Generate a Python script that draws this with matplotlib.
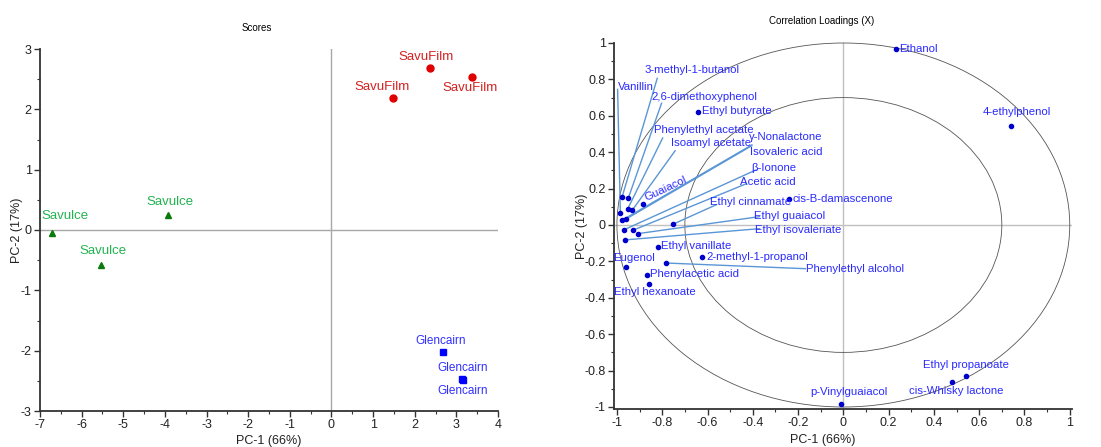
import matplotlib
matplotlib.use("Agg")
import matplotlib.pyplot as plt
from matplotlib.patches import Ellipse
from matplotlib.ticker import MultipleLocator, FuncFormatter

plt.rcParams['font.family'] = ['Liberation Sans', 'DejaVu Sans']
plt.rcParams['axes.unicode_minus'] = False

# ---------------- Scores data ----------------
savufilm_pc1 = [2.37, 1.47, 3.37]
savufilm_pc2 = [2.69, 2.18, 2.54]
savulce_pc1 = [-6.71, -5.53, -3.93]
savulce_pc2 = [-0.05, -0.58, 0.25]
glencairn_pc1 = [2.68, 3.13, 3.17]
glencairn_pc2 = [-2.02, -2.47, -2.49]

# ---------------- Loadings data ----------------
compounds = ["Ethanol", "4-ethylphenol", "Ethyl butyrate", "cis-B-damascenone",
             "Ethyl vanillate", "2-methyl-1-propanol", "Phenylethyl alcohol",
             "Eugenol", "Phenylacetic acid", "Ethyl hexanoate", "p-Vinylguaiacol",
             "Ethyl propanoate", "cis-Whisky lactone",
             "Vanillin", "3-methyl-1-butanol", "2,6-dimethoxyphenol",
             "Phenylethyl acetate", "Isoamyl acetate", "Guaiacol",
             "γ-Nonalactone", "Isovaleric acid", "β-Ionone", "Acetic acid",
             "Ethyl cinnamate", "Ethyl guaiacol", "Ethyl isovaleriate"]
load_pc1 = [0.233, 0.742, -0.643, -0.242,
            -0.817, -0.625, -0.783,
            -0.962, -0.869, -0.860, -0.010,
            0.543, 0.482,
            -0.985, -0.977, -0.950,
            -0.952, -0.932, -0.885,
            -0.976, -0.961, -0.970, -0.931,
            -0.753, -0.905, -0.965]
load_pc2 = [0.965, 0.546, 0.622, 0.141,
            -0.123, -0.174, -0.209,
            -0.232, -0.276, -0.322, -0.982,
            -0.831, -0.861,
            0.068, 0.155, 0.147,
            0.090, 0.082, 0.118,
            0.027, 0.032, -0.027, -0.030,
            0.004, -0.047, -0.082]

# label layout: (x, y, ha, rotation, leader-line end or None)
label_layout = {
    "Ethanol": (0.245, 0.968, 'left', 0, None),
    "4-ethylphenol": (0.766, 0.62, 'center', 0, None),
    "Ethyl butyrate": (-0.625, 0.624, 'left', 0, None),
    "cis-B-damascenone": (-0.225, 0.145, 'left', 0, None),
    "Ethyl vanillate": (-0.805, -0.115, 'left', 0, None),
    "2-methyl-1-propanol": (-0.605, -0.178, 'left', 0, None),
    "Phenylethyl alcohol": (-0.165, -0.24, 'left', 0, (-0.168, -0.24)),
    "Eugenol": (-0.925, -0.183, 'center', 0, None),
    "Phenylacetic acid": (-0.855, -0.269, 'left', 0, None),
    "Ethyl hexanoate": (-0.832, -0.37, 'center', 0, None),
    "p-Vinylguaiacol": (0.025, -0.919, 'center', 0, None),
    "Ethyl propanoate": (0.544, -0.769, 'center', 0, None),
    "cis-Whisky lactone": (0.50, -0.912, 'center', 0, None),
    "Vanillin": (-0.995, 0.757, 'left', 0, (-0.997, 0.745)),
    "3-methyl-1-butanol": (-0.667, 0.85, 'center', 0, (-0.822, 0.806)),
    "2,6-dimethoxyphenol": (-0.612, 0.705, 'center', 0, (-0.803, 0.669)),
    "Phenylethyl acetate": (-0.618, 0.522, 'center', 0, (-0.798, 0.478)),
    "Isoamyl acetate": (-0.585, 0.449, 'center', 0, (-0.743, 0.408)),
    "Guaiacol": (-0.785, 0.198, 'center', 25, None),
    "γ-Nonalactone": (-0.255, 0.485, 'center', 0, (-0.404, 0.44)),
    "Isovaleric acid": (-0.252, 0.403, 'center', 0, (-0.404, 0.436)),
    "β-Ionone": (-0.308, 0.311, 'center', 0, (-0.385, 0.303)),
    "Acetic acid": (-0.333, 0.238, 'center', 0, (-0.43, 0.226)),
    "Ethyl cinnamate": (-0.412, 0.125, 'center', 0, (-0.56, 0.112)),
    "Ethyl guaiacol": (-0.238, 0.049, 'center', 0, (-0.37, 0.046)),
    "Ethyl isovaleriate": (-0.199, -0.027, 'center', 0, (-0.37, -0.02)),
}

fig = plt.figure(figsize=(11.01, 4.47), dpi=100)

def style_axes(ax):
    for s in ['top', 'right']:
        ax.spines[s].set_visible(False)
    for s in ['left', 'bottom']:
        ax.spines[s].set_color('#333333')
        ax.spines[s].set_linewidth(1.3)
    ax.tick_params(which='major', length=4, width=1, color='#333333',
                   labelsize=9, labelcolor='#222222', pad=2)
    ax.tick_params(which='minor', length=2.5, width=0.8, color='#333333')

fmt = FuncFormatter(lambda v, p: f"{round(v, 2):g}")

# ---------------- Scores panel ----------------
ax1 = fig.add_axes([40/1101, 36/447, 458/1101, 362/447])
style_axes(ax1)
ax1.set_xlim(-7, 4)
ax1.set_ylim(-3, 3)
ax1.xaxis.set_major_locator(MultipleLocator(1))
ax1.xaxis.set_minor_locator(MultipleLocator(0.5))
ax1.yaxis.set_major_locator(MultipleLocator(1))
ax1.yaxis.set_minor_locator(MultipleLocator(0.5))
ax1.xaxis.set_major_formatter(fmt)
ax1.yaxis.set_major_formatter(fmt)
ax1.axhline(0, color='#a8a8a8', lw=1, zorder=0)
ax1.axvline(0, color='#a8a8a8', lw=1, zorder=0)

ax1.plot(savufilm_pc1, savufilm_pc2, 'o', color='#e00000', ms=5, ls='none')
ax1.plot(savulce_pc1, savulce_pc2, '^', color='#0a7a0a', ms=5, ls='none')
ax1.plot(glencairn_pc1, glencairn_pc2, 's', color='#0000ff', ms=5, ls='none')

savufilm_lbl = [(2.27, 2.87), (1.21, 2.37), (3.33, 2.35)]
savulce_lbl = [(-6.39, 0.24), (-5.49, -0.34), (-3.87, 0.46)]
glencairn_lbl = [(2.63, -1.84), (3.16, -2.28), (3.15, -2.67)]
for (x, y) in savufilm_lbl:
    ax1.text(x, y, "SavuFilm", color='#d42020', fontsize=9.5, ha='center', va='center')
for (x, y) in savulce_lbl:
    ax1.text(x, y, "Savulce", color='#22b350', fontsize=9.5, ha='center', va='center')
for (x, y) in glencairn_lbl:
    ax1.text(x, y, "Glencairn", color='#3030ff', fontsize=8.5, ha='center', va='center')

fig.text(257/1101, 1 - 28/447, "Scores", fontsize=7, ha='center', va='center')
ax1.set_xlabel("PC-1 (66%)", fontsize=9, color='#222222', va='center')
ax1.xaxis.set_label_coords((269 - 40) / 458, -30 / 362)
ax1.set_ylabel("PC-2 (17%)", fontsize=9, color='#222222', va='center')
ax1.yaxis.set_label_coords((17 - 40) / 458, 0.5)

# ---------------- Correlation loadings panel ----------------
ax2 = fig.add_axes([614/1101, 38/447, 458/1101, 366/447])
style_axes(ax2)
ax2.set_xlim(-1.013, 1.01)
ax2.set_ylim(-1.011, 1.0)
ax2.xaxis.set_major_locator(MultipleLocator(0.2))
ax2.xaxis.set_minor_locator(MultipleLocator(0.1))
ax2.yaxis.set_major_locator(MultipleLocator(0.2))
ax2.yaxis.set_minor_locator(MultipleLocator(0.1))
ax2.xaxis.set_major_formatter(fmt)
ax2.yaxis.set_major_formatter(fmt)
ax2.axhline(0, color='#c0c0c0', lw=1, zorder=0)
ax2.axvline(0, color='#c0c0c0', lw=1, zorder=0)
for r in (1.0, 0.7):
    ax2.add_patch(Ellipse((0, 0), 2 * r, 2 * r, fill=False, edgecolor='#555555',
                          lw=0.6, clip_on=False, zorder=1))

ax2.plot(load_pc1, load_pc2, 'o', color='#0000cc', ms=3, ls='none', zorder=4)
for name, x, y in zip(compounds, load_pc1, load_pc2):
    tx, ty, ha, rot, lend = label_layout[name]
    if lend is not None:
        ax2.plot([x, lend[0]], [y, lend[1]], color='#5a96d6', lw=1, zorder=2)
    ax2.text(tx, ty, name, color='#2a2aff', fontsize=8.2, ha=ha, va='center',
             rotation=rot, rotation_mode='anchor', zorder=5)

fig.text(822/1101, 1 - 21/447, "Correlation Loadings (X)", fontsize=7, ha='center', va='center')
ax2.set_xlabel("PC-1 (66%)", fontsize=9, color='#222222', va='center')
ax2.xaxis.set_label_coords((823 - 614) / 458, -31 / 366)
ax2.set_ylabel("PC-2 (17%)", fontsize=9, color='#222222', va='center')
ax2.yaxis.set_label_coords((582 - 614) / 458, 0.5)

fig.savefig("out.png", dpi=100)
